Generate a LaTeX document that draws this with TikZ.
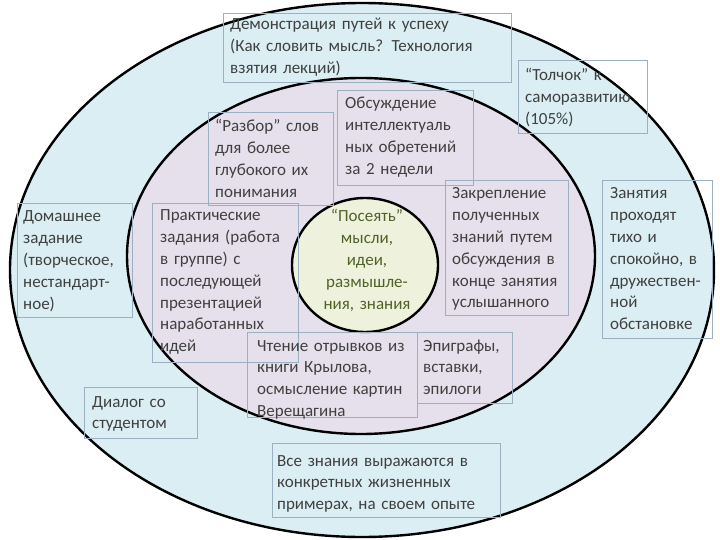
\documentclass[tikz,border=0pt]{standalone}
\usepackage{fontspec}
\setmainfont{Carlito}
\definecolor{outerfill}{HTML}{DAEEF3}
\definecolor{innerfill}{HTML}{E5E0EC}
\definecolor{corefill}{HTML}{EEF2DC}
\definecolor{boxline}{HTML}{9CB0C4}
\definecolor{txtcol}{HTML}{404040}
\definecolor{coretxt}{HTML}{4F6228}
\tikzset{
  ring/.style={draw=black, line width=2.4pt},
  frame/.style={draw=boxline, line width=0.6pt},
  txt/.style={inner sep=0pt, anchor=base west, align=left, text=txtcol,
    font=\fontsize{17}{21.8}\selectfont},
}
\begin{document}
\begin{tikzpicture}[x=1pt, y=-1pt]
\useasboundingbox (0,0) rectangle (720,540);
\fill[white] (0,0) rectangle (720,540);
% ellipses
\filldraw[ring, fill=outerfill] (362,270) ellipse [x radius=352, y radius=267];
\filldraw[ring, fill=innerfill] (361,256) ellipse [x radius=234, y radius=178];
\filldraw[ring, fill=corefill] (365,265) ellipse [x radius=73, y radius=67];
% frames
\draw[frame] (223,13) rectangle (511,82);
\draw[frame] (518,60) rectangle (647,133);
\draw[frame] (208,112) rectangle (333,205);
\draw[frame] (337,90) rectangle (473,185);
\draw[frame] (445,180) rectangle (568,315);
\draw[frame] (17,203) rectangle (132,317);
\draw[frame] (152,203) rectangle (298,362);
\draw[frame] (247,332) rectangle (417,417);
\draw[frame] (417,332) rectangle (512,403);
\draw[frame] (84,387) rectangle (197,438);
\draw[frame] (272,443) rectangle (500,517);
\draw[frame] (602,180) rectangle (712,338);
% texts
\node[txt, text width=280pt] (demo) at (230,30) {Демонстрация путей к успеху\\(Как словить мысль? Технология\\взятия лекций)};
\node[txt, text width=125pt] (push) at (525,81) {“Толчок” к\\саморазвитию\\(105\%)};
\node[txt, text width=120pt] (parse) at (215,132) {“Разбор” слов\\для более\\глубокого их\\понимания};
\node[txt, text width=130pt] (discuss) at (345,109) {Обсуждение\\интеллектуаль\\ных обретений\\за 2 недели};
\node[txt, text width=120pt] (fix) at (452,199) {Закрепление\\полученных\\знаний путем\\обсуждения в\\конце занятия\\услышанного};
\node[txt, text width=112pt] (home) at (23,222) {Домашнее\\задание\\(творческое,\\нестандарт-\\ное)};
\node[txt, text width=140pt] (practice) at (160,221) {Практические\\задания (работа\\в группе) с\\последующей\\презентацией\\наработанных\\идей};
\node[txt, align=center, anchor=base, text width=120pt, text=coretxt] (core) at (367,222) {“Посеять”\\мысли,\\идеи,\\размышле-\\ния, знания};
\node[txt, text width=165pt] (read) at (257,351) {Чтение отрывков из\\книги Крылова,\\осмысление картин\\Верещагина};
\node[txt, text width=92pt] (epi) at (423,351) {Эпиграфы,\\вставки,\\эпилоги};
\node[txt, text width=110pt] (dialog) at (92,407) {Диалог со\\студентом};
\node[txt, text width=225pt] (life) at (277,466) {Все знания выражаются в\\конкретных жизненных\\примерах, на своем опыте};
\node[txt, text width=108pt] (calm) at (610,199) {Занятия\\проходят\\тихо и\\спокойно, в\\дружествен-\\ной\\обстановке};
\end{tikzpicture}
\end{document}
